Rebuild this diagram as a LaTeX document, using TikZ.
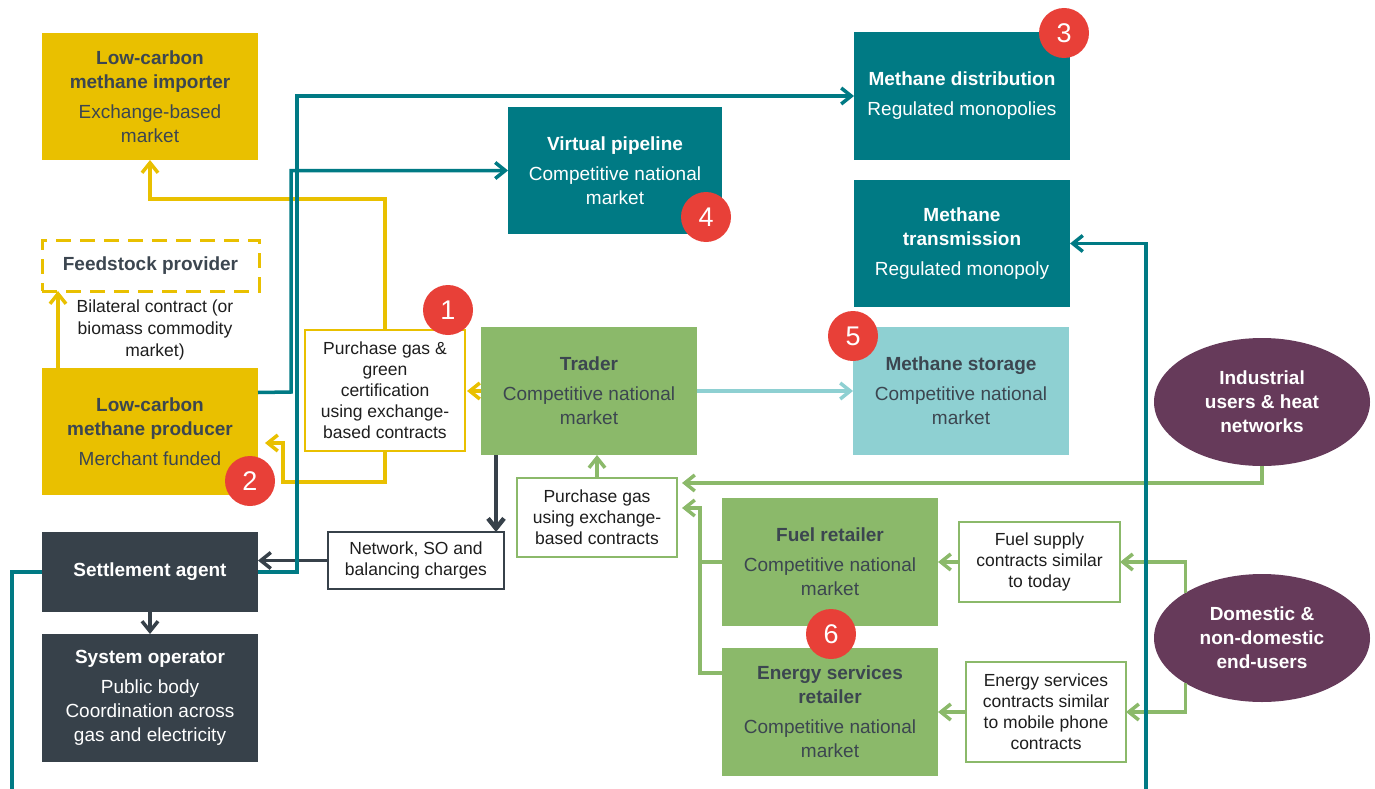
\documentclass[tikz,border=0pt]{standalone}
\usepackage{fontspec}
\setmainfont{Liberation Sans}
\usetikzlibrary{arrows.meta,shapes.geometric}
\definecolor{ylw}{RGB}{233,192,0}
\definecolor{tel}{RGB}{0,122,132}
\definecolor{ltel}{RGB}{142,208,210}
\definecolor{grn}{RGB}{139,185,106}
\definecolor{drk}{RGB}{55,65,74}
\definecolor{pur}{RGB}{102,58,90}
\definecolor{bred}{RGB}{232,64,56}
\definecolor{txt}{RGB}{60,70,80}
\definecolor{ink}{RGB}{30,30,30}
\newcommand\hd[1]{\textbf{#1}}

\begin{document}
\begin{tikzpicture}[x=1pt,y=-1pt,
  every node/.style={inner sep=0pt, outer sep=0pt},
  conn/.style={line width=3.5pt, -{Straight Barb[length=10pt,width=16pt]}},
  plain/.style={line width=3.5pt},
  box/.style={rectangle, minimum width=216pt, minimum height=127pt, align=center,
    font=\fontsize{19}{24}\selectfont},
  ybox/.style={box, fill=ylw, text=txt},
  gbox/.style={box, fill=grn, text=txt},
  tbox/.style={box, fill=tel, text=white},
  dbox/.style={box, fill=drk, text=white},
  notebox/.style={rectangle, draw=#1, line width=1.3pt, fill=white, align=center,
    text=ink, font=\fontsize{17.5}{21}\selectfont},
  user/.style={ellipse, fill=pur, text=white, minimum width=216pt, minimum height=128pt,
    align=center, font=\bfseries\fontsize{19}{24}\selectfont},
  badge/.style={circle, fill=bred, text=white, minimum size=50pt,
    font=\fontsize{27}{27}\selectfont},
]
\useasboundingbox (0,0) rectangle (1375,789);
\clip (0,0) rectangle (1375,789);

% --- left column: producers and system bodies
\node[ybox] (imp) at (150,96.5) {\hd{Low-carbon}\\\hd{methane importer}\\[6pt]Exchange-based\\market};
\node[box, minimum width=217pt, minimum height=51pt, draw=ylw, line width=3pt,
  dash pattern=on 15pt off 9pt, text=txt] (feed) at (150.5,265.5) {\hd{Feedstock provider}};
\node[align=center, text=ink, font=\fontsize{17.5}{22}\selectfont] (bil) at (155,330)
  {Bilateral contract (or\\biomass commodity\\market)};
\node[ybox] (prod) at (150,431.5) {\hd{Low-carbon}\\\hd{methane producer}\\[6pt]Merchant funded};
\node[dbox, minimum height=80pt] (settle) at (150,572) {\hd{Settlement agent}};
\node[dbox, minimum height=128pt] (so) at (150,698) {\hd{System operator}\\[6pt]Public body\\Coordination across\\gas and electricity};

% --- centre: trading
\node[notebox=ylw, minimum width=160pt, minimum height=121pt] (pg) at (385,390.5)
  {Purchase gas \&\\green\\certification\\using exchange-\\based contracts};
\node[gbox, minimum height=128pt] (trader) at (589,391) {\hd{Trader}\\[6pt]Competitive national\\market};
\node[tbox, minimum width=214pt] (vp) at (615,170.5) {\hd{Virtual pipeline}\\[6pt]Competitive national\\market};
\node[notebox=grn, minimum width=160pt, minimum height=79pt] (pgx) at (597,517.5)
  {Purchase gas\\using exchange-\\based contracts};
\node[notebox=drk, minimum width=176pt, minimum height=57pt] (net) at (416,560.5)
  {Network, SO and\\balancing charges};

% --- networks and storage
\node[tbox, minimum height=128pt] (dist) at (962,96) {\hd{Methane distribution}\\[6pt]Regulated monopolies};
\node[tbox] (trans) at (962,243.5) {\hd{Methane}\\\hd{transmission}\\[6pt]Regulated monopoly};
\node[box, fill=ltel, text=txt, minimum height=128pt] (stor) at (961,391) {\hd{Methane storage}\\[6pt]Competitive national\\market};

% --- retail and end users
\node[gbox, minimum height=128pt] (fr) at (830,562) {\hd{Fuel retailer}\\[6pt]Competitive national\\market};
\node[gbox, minimum height=128pt] (esr) at (830,712) {\hd{Energy services}\\\hd{retailer}\\[6pt]Competitive national\\market};
\node[notebox=grn, minimum width=161pt, minimum height=80pt] (fsc) at (1039.5,562)
  {Fuel supply\\contracts similar\\to today};
\node[notebox=grn, minimum width=160pt, minimum height=100pt] (esc) at (1046,712)
  {Energy services\\contracts similar\\to mobile phone\\contracts};
\node[user] (ind) at (1262,402) {Industrial\\users \& heat\\networks};
\node[user] (dom) at (1262,638) {Domestic \&\\non-domestic\\end-users};

% --- helper points
\coordinate (ya) at (283,443);
\coordinate (gy1) at (0,483);
\coordinate (gy2) at (0,508);
\coordinate (tdrop) at ([xshift=15pt]trader.south west);

% --- yellow flows
\draw[conn, ylw] (pg.north) |- (150,199) -- (imp.south);
\draw[conn, ylw, shorten >=7pt] (pg.south) |- (283,482) -- (ya) -- (prod.east |- ya);
\draw[conn, ylw, shorten >=2pt] (trader.west) -- (pg.east |- trader.west);
\draw[conn, ylw] ([xshift=16pt]prod.north west) -- ([xshift=16pt]feed.south west);

% --- dark flows
\draw[conn, drk, line width=4.5pt] (tdrop) -- (tdrop |- net.north);
\draw[conn, drk] (net.west) -- (settle.east |- net.west);
\draw[conn, drk] (settle.south) -- (so.north);

% --- trader to storage
\draw[conn, ltel] (trader.east) -- (stor.west);

% --- green flows
\draw[conn, grn] (pgx.north) -- (pgx.north |- trader.south);
\draw[conn, grn, shorten >=5pt] (ind.south) |- (pgx.east |- gy1);
\draw[conn, grn, shorten >=5pt] (fr.west) -- (700,562) |- (pgx.east |- gy2);
\draw[plain, grn] ([yshift=39pt]esr.west) -| (700,562);
\draw[conn, grn] (fsc.west) -- (fr.east |- fsc.west);
\draw[conn, grn] (esc.west) -- (esr.east |- esc.west);
\draw[conn, grn] (dom.north west) |- (fsc.east);
\draw[conn, grn] (dom.south west) |- (esc.east);

% --- teal network links
\draw[conn, tel] ([yshift=39pt]prod.east) -- (291,392) |- (vp.west);
\draw[conn, tel] (settle.east) -- (297,572) |- (dist.west);
\draw[conn, tel] (settle.west) -- (12,572) -- (12,840) -- (1146,840) |- (trans.east);

% --- numbered markers
\node[badge] (b1) at (448,310) {1};
\node[badge] (b2) at (250,481) {2};
\node[badge] (b3) at (1064,33) {3};
\node[badge] (b4) at (706,217) {4};
\node[badge] (b5) at (853,336) {5};
\node[badge] (b6) at (831,634) {6};
\end{tikzpicture}
\end{document}
